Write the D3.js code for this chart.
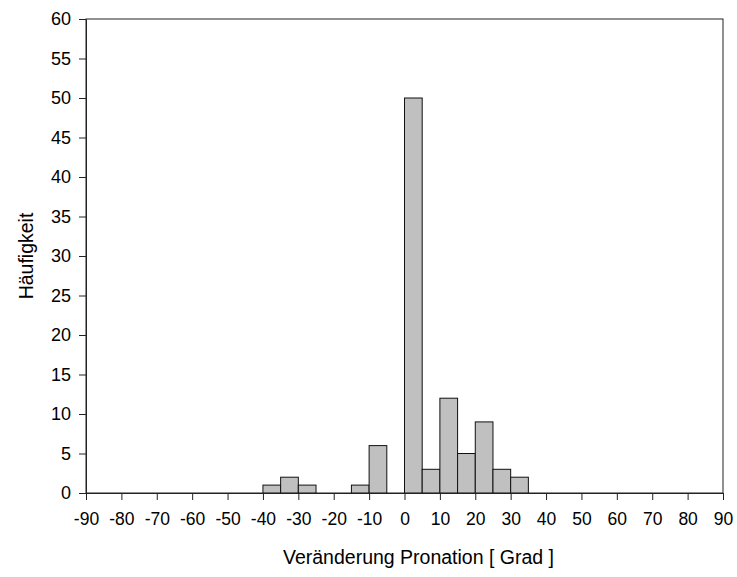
<!DOCTYPE html>
<html>
<head>
<meta charset="utf-8">
<script src="https://cdn.jsdelivr.net/npm/d3@7"></script>
<style>
    body { margin: 0; background: #fff; }
    svg text { font-family: "Liberation Sans", Arial, sans-serif; fill: #000; }
</style>
</head>
<body>
<div id="chart"></div>
<script>
// bin lower edges (width 5) and counts
const binStarts = [-40, -35, -30, -15, -10, 0, 5, 10, 15, 20, 25, 30];
const counts = [1, 2, 1, 1, 6, 50, 3, 12, 5, 9, 3, 2];
const binWidth = 5;
const xTicks = d3.range(-90, 91, 10);
const yTicks = d3.range(0, 61, 5);

const margin = { top: 19, right: 14, bottom: 84, left: 86 };
const outerWidth = 737;
const outerHeight = 577;
const width = outerWidth - margin.left - margin.right;
const height = outerHeight - margin.top - margin.bottom;

const svg = d3.select('#chart').append('svg')
    .attr('width', outerWidth)
    .attr('height', outerHeight);

const main = svg.append('g')
    .attr('transform', `translate(${[margin.left, margin.top]})`);

const xScale = d3.scaleLinear().domain([-90, 90]).range([0, width]);
const yScale = d3.scaleLinear().domain([0, 60]).range([height, 0]);

// frame
main.append('rect')
    .attr('x', 0).attr('y', 0)
    .attr('width', width).attr('height', height)
    .attr('fill', 'none')
    .attr('stroke', '#222')
    .attr('stroke-width', 1);

// bars
main.selectAll('.bar')
    .data(binStarts.map((s, i) => ({ start: s, count: counts[i] })))
    .enter()
    .append('rect')
    .attr('class', 'bar')
    .attr('x', d => xScale(d.start))
    .attr('width', d => xScale(d.start + binWidth) - xScale(d.start))
    .attr('y', d => yScale(d.count))
    .attr('height', d => yScale(0) - yScale(d.count))
    .attr('fill', '#c0c0c0')
    .attr('stroke', '#111')
    .attr('stroke-width', 1);

// plain hyphen for negatives, like the original
const fmt = d => String(d);

const xAxis = d3.axisBottom(xScale)
    .tickValues(xTicks)
    .tickFormat(fmt)
    .tickSize(7)
    .tickPadding(13)
    .tickSizeOuter(0);
const xAxisG = main.append('g')
    .attr('transform', `translate(0,${height})`)
    .call(xAxis);

const yAxis = d3.axisLeft(yScale)
    .tickValues(yTicks)
    .tickFormat(fmt)
    .tickSize(7)
    .tickPadding(8)
    .tickSizeOuter(0);
const yAxisG = main.append('g').call(yAxis);

[xAxisG, yAxisG].forEach(g => {
    g.selectAll('path').attr('stroke', '#222');
    g.selectAll('line').attr('stroke', '#222');
    g.selectAll('text').style('font-size', '18px').attr('fill', '#000');
});
xAxisG.selectAll('text').style('font-size', '17.5px');

// axis titles
svg.append('text')
    .attr('x', margin.left + width / 2 + 14)
    .attr('y', 564)
    .attr('text-anchor', 'middle')
    .style('font-size', '19.5px')
    .text('Veränderung Pronation [ Grad ]');

svg.append('text')
    .attr('transform', `translate(33,${margin.top + height / 2}) rotate(-90)`)
    .attr('text-anchor', 'middle')
    .style('font-size', '19.5px')
    .text('Häufigkeit');
</script>
</body>
</html>
